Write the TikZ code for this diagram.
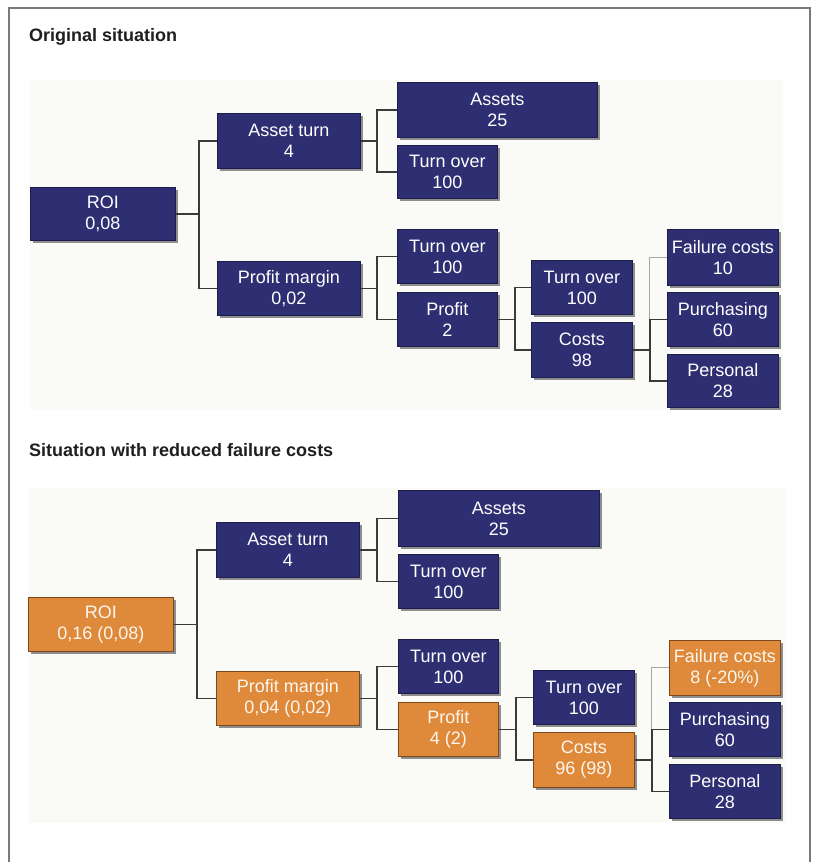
\documentclass[tikz,border=0pt]{standalone}
\usepackage{fontspec}
\setmainfont{Liberation Sans}
\usetikzlibrary{shadows}
\definecolor{navy}{HTML}{2D2F72}
\definecolor{navyedge}{HTML}{1C1D4A}
\definecolor{orng}{HTML}{DF8A3A}
\definecolor{orngedge}{HTML}{7A4A1E}
\definecolor{frameg}{HTML}{7A7A7A}
\definecolor{lineg}{HTML}{3A3A3A}
\definecolor{panelg}{HTML}{FAFAF7}
\definecolor{shadg}{HTML}{8E8E8E}
\tikzset{
  kbox/.style={rectangle, anchor=north west, inner sep=0pt, align=center,
    font=\fontsize{18}{21}\selectfont, line width=0.8pt,
    general shadow={fill=shadg, shadow xshift=3pt, shadow yshift=-3pt}},
  navybox/.style={kbox, fill=navy, draw=navyedge, text=white},
  orangebox/.style={kbox, fill=orng, draw=orngedge, text=white!92!orng},
  conn/.style={draw=lineg, line width=1.5pt},
  lightconn/.style={draw=gray!70, line width=0.9pt},
  heading/.style={anchor=base west, inner sep=0pt, font=\bfseries\fontsize{18}{21}\selectfont, text=black!88}
}
\begin{document}
\begin{tikzpicture}[x=1pt,y=-1pt]
\useasboundingbox (0,0) rectangle (814,862);
\fill[white] (0,0) rectangle (814,862);
% frame
\draw[frameg, line width=1.4pt] (9,862) -- (9,8) -- (810,8) -- (810,862);
% panels
\fill[panelg] (30,80) rectangle (783,410);
\fill[panelg] (28,488) rectangle (786,823);
% headings
\node[heading] (h1) at (29,41) {Original situation};
\node[heading] (h2) at (29,456) {Situation with reduced failure costs};

% ---------- top diagram ----------
\node[navybox, minimum width=145pt, minimum height=53pt] (roi) at (30,187) {ROI\\0,08};
\node[navybox, minimum width=143pt, minimum height=55pt] (at) at (217,113) {Asset turn\\4};
\node[navybox, minimum width=143pt, minimum height=54pt] (pm) at (217,261) {Profit margin\\0,02};
\node[navybox, minimum width=200pt, minimum height=55pt] (as) at (397,82) {Assets\\25};
\node[navybox, minimum width=100pt, minimum height=53pt] (toa) at (397,145) {Turn over\\100};
\node[navybox, minimum width=100pt, minimum height=54pt] (tob) at (397,229) {Turn over\\100};
\node[navybox, minimum width=100pt, minimum height=54pt] (pr) at (397,292) {Profit\\2};
\node[navybox, minimum width=101pt, minimum height=54pt] (toc) at (531,260) {Turn over\\100};
\node[navybox, minimum width=101pt, minimum height=55pt] (co) at (531,322) {Costs\\98};
\node[navybox, minimum width=111pt, minimum height=56pt] (fc) at (667,229) {Failure costs\\10};
\node[navybox, minimum width=111pt, minimum height=54pt] (pu) at (667,292) {Purchasing\\60};
\node[navybox, minimum width=111pt, minimum height=53pt] (pe) at (667,354) {Personal\\28};

\draw[conn] (roi.east) -- ++(23,0) |- (at.west);
\draw[conn] (roi.east) -- ++(23,0) |- (pm.west);
\draw[conn] (at.east) -- ++(16,0) |- (as.west);
\draw[conn] (at.east) -- ++(16,0) |- (toa.west);
\draw[conn] (pm.east) -- ++(16,0) |- (tob.west);
\draw[conn] (pm.east) -- ++(16,0) |- (pr.west);
\draw[conn] (pr.east) -- ++(17,0) |- (toc.west);
\draw[conn] (pr.east) -- ++(17,0) |- (co.west);
\draw[lightconn] (co.east) ++(17,0) |- (fc.west);
\draw[conn] (co.east) -- ++(17,0) |- (pu.west);
\draw[conn] (co.east) -- ++(17,0) |- (pe.west);

% ---------- bottom diagram ----------
\node[orangebox, minimum width=145pt, minimum height=54pt] (roib) at (28,597) {ROI\\0,16 (0,08)};
\node[navybox, minimum width=143pt, minimum height=55pt] (atb) at (216,522) {Asset turn\\4};
\node[orangebox, minimum width=143pt, minimum height=54pt] (pmb) at (216,671) {Profit margin\\0,04 (0,02)};
\node[navybox, minimum width=201pt, minimum height=56pt] (asb) at (398,490) {Assets\\25};
\node[navybox, minimum width=100pt, minimum height=54pt] (toab) at (398,554) {Turn over\\100};
\node[navybox, minimum width=100pt, minimum height=54pt] (tobb) at (398,639) {Turn over\\100};
\node[orangebox, minimum width=100pt, minimum height=54pt] (prb) at (398,702) {Profit\\4 (2)};
\node[navybox, minimum width=101pt, minimum height=54pt] (tocb) at (533,670) {Turn over\\100};
\node[orangebox, minimum width=101pt, minimum height=55pt] (cob) at (533,732) {Costs\\96 (98)};
\node[orangebox, minimum width=111pt, minimum height=55pt] (fcb) at (669,640) {Failure costs\\8 (-20\%)};
\node[navybox, minimum width=111pt, minimum height=54pt] (pub) at (669,702) {Purchasing\\60};
\node[navybox, minimum width=111pt, minimum height=54pt] (peb) at (669,764) {Personal\\28};

\draw[conn] (roib.east) -- ++(23,0) |- (atb.west);
\draw[conn] (roib.east) -- ++(23,0) |- (pmb.west);
\draw[conn] (atb.east) -- ++(17,0) |- (asb.west);
\draw[conn] (atb.east) -- ++(17,0) |- (toab.west);
\draw[conn] (pmb.east) -- ++(17,0) |- (tobb.west);
\draw[conn] (pmb.east) -- ++(17,0) |- (prb.west);
\draw[conn] (prb.east) -- ++(17,0) |- (tocb.west);
\draw[conn] (prb.east) -- ++(17,0) |- (cob.west);
\draw[lightconn] (cob.east) ++(17,0) |- (fcb.west);
\draw[conn] (cob.east) -- ++(17,0) |- (pub.west);
\draw[conn] (cob.east) -- ++(17,0) |- (peb.west);
\end{tikzpicture}
\end{document}
